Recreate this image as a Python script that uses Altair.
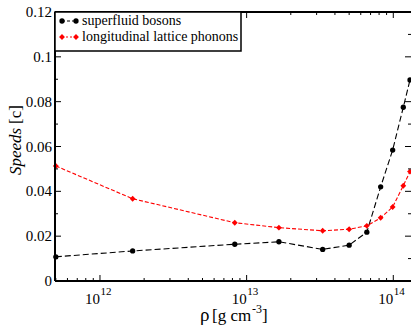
import altair as alt
import pandas as pd

# ---- data ----
rho = [5.0e11, 1.67e12, 8.3e12, 1.66e13, 3.3e13, 5.0e13, 6.6e13, 8.2e13, 9.9e13, 1.17e14, 1.3e14]
boson = [0.0108, 0.0134, 0.0164, 0.0175, 0.0141, 0.0160, 0.0218, 0.0420, 0.0584, 0.0775, 0.0897]
phonon = [0.0513, 0.0367, 0.0260, 0.0238, 0.0224, 0.0231, 0.0246, 0.0282, 0.0330, 0.0425, 0.0488]
series_names = ["superfluid bosons", "longitudinal lattice phonons"]

x_major = [1e12, 1e13, 1e14]
x_major_exp = ["12", "13", "14"]
x_minor = [k * 10.0 ** e for e in (11, 12, 13) for k in range(2, 10)]
y_major = [0, 0.02, 0.04, 0.06, 0.08, 0.1, 0.12]
y_major_lbl = ["0", "0.02", "0.04", "0.06", "0.08", "0.1", "0.12"]
y_minor = [0.01, 0.03, 0.05, 0.07, 0.09, 0.11]

XMIN, XMAX = 4.935e11, 1.3205e14
x_minor = [v for v in x_minor if XMIN < v < XMAX]

W, H = 356, 269
FONT = "Liberation Serif"

xscale = alt.Scale(type="log", domain=[XMIN, XMAX], nice=False)
yscale = alt.Scale(domain=[0, 0.12], nice=False, zero=False)

df_b = pd.DataFrame({"rho": rho, "v": boson})
df_r = pd.DataFrame({"rho": rho, "v": phonon})
X = alt.X("rho:Q", scale=xscale, axis=None)
Y = alt.Y("v:Q", scale=yscale, axis=None)

line_b = alt.Chart(df_b).mark_line(color="black", strokeDash=[6, 3], strokeWidth=1.1).encode(x=X, y=Y)
pts_b = alt.Chart(df_b).mark_point(shape="circle", filled=True, size=28, color="black", opacity=1).encode(x=X, y=Y)
line_r = alt.Chart(df_r).mark_line(color="#ff0000", strokeDash=[4, 2], strokeWidth=1.1).encode(x=X, y=Y)
pts_r = alt.Chart(df_r).mark_point(shape="diamond", filled=True, size=34, color="#ff0000", opacity=1).encode(x=X, y=Y)

one = pd.DataFrame({"a": [1]})

# frame (left, top, bottom)
frame = [
    alt.Chart(one).mark_rule(color="black", strokeWidth=2).encode(x=alt.value(0), y=alt.value(0), y2=alt.value(H)),
    alt.Chart(one).mark_rule(color="black", strokeWidth=2).encode(x=alt.value(0), x2=alt.value(W), y=alt.value(0)),
    alt.Chart(one).mark_rule(color="black", strokeWidth=2).encode(x=alt.value(0), x2=alt.value(W), y=alt.value(H)),
]

dxm = pd.DataFrame({"t": x_major})
dxn = pd.DataFrame({"t": x_minor})
dym = pd.DataFrame({"t": y_major})
dyn = pd.DataFrame({"t": y_minor})
XT = alt.X("t:Q", scale=xscale, axis=None)
YT = alt.Y("t:Q", scale=yscale, axis=None)

ticks = [
    alt.Chart(dxm).mark_rule(color="black", strokeWidth=1).encode(x=XT, y=alt.value(H), y2=alt.value(H - 6)),
    alt.Chart(dxn).mark_rule(color="black", strokeWidth=1).encode(x=XT, y=alt.value(H), y2=alt.value(H - 3)),
    alt.Chart(dxm).mark_rule(color="black", strokeWidth=1).encode(x=XT, y=alt.value(0), y2=alt.value(6)),
    alt.Chart(dxn).mark_rule(color="black", strokeWidth=1).encode(x=XT, y=alt.value(0), y2=alt.value(3)),
    alt.Chart(dym).mark_rule(color="black", strokeWidth=1).encode(y=YT, x=alt.value(0), x2=alt.value(6)),
    alt.Chart(dyn).mark_rule(color="black", strokeWidth=1).encode(y=YT, x=alt.value(0), x2=alt.value(3)),
    alt.Chart(dym).mark_rule(color="black", strokeWidth=1).encode(y=YT, x=alt.value(W), x2=alt.value(W - 6)),
    alt.Chart(dyn).mark_rule(color="black", strokeWidth=1).encode(y=YT, x=alt.value(W), x2=alt.value(W - 3)),
]

# tick labels
dylab = pd.DataFrame({"t": y_major, "lbl": y_major_lbl})
ylabels = alt.Chart(dylab).mark_text(font=FONT, fontSize=15, align="right", baseline="middle", color="black").encode(
    y=YT, x=alt.value(-3), text="lbl:N")
dxlab = pd.DataFrame({"t": x_major, "e": x_major_exp})
xlab10 = alt.Chart(dxlab).mark_text(font=FONT, fontSize=15, align="right", baseline="alphabetic", color="black").encode(
    x=XT, y=alt.value(H + 23), text=alt.value("10"))
xlabexp = alt.Chart(dxlab).mark_text(font=FONT, fontSize=11, align="left", baseline="alphabetic", color="black", dx=0.5).encode(
    x=XT, y=alt.value(H + 14), text="e:N")

# axis titles
titles = [
    alt.Chart(one).mark_text(font=FONT, fontSize=19, align="left", baseline="alphabetic", color="black").encode(
        x=alt.value(145), y=alt.value(H + 40), text=alt.value("ρ")),
    alt.Chart(one).mark_text(font=FONT, fontSize=17, align="left", baseline="alphabetic", color="black").encode(
        x=alt.value(157), y=alt.value(H + 40), text=alt.value("[g cm")),
    alt.Chart(one).mark_text(font=FONT, fontSize=12, align="left", baseline="alphabetic", color="black").encode(
        x=alt.value(197), y=alt.value(H + 32), text=alt.value("-3")),
    alt.Chart(one).mark_text(font=FONT, fontSize=17, align="left", baseline="alphabetic", color="black").encode(
        x=alt.value(207), y=alt.value(H + 40), text=alt.value("]")),
    alt.Chart(one).mark_text(font=FONT, fontSize=17, fontStyle="italic", align="left", baseline="alphabetic",
                             angle=270, color="black").encode(
        x=alt.value(-34), y=alt.value(163), text=alt.value("Speeds")),
    alt.Chart(one).mark_text(font=FONT, fontSize=17, align="right", baseline="alphabetic",
                             angle=270, color="black").encode(
        x=alt.value(-34), y=alt.value(93), text=alt.value("[c]")),
]

# legend
legend = [
    alt.Chart(one).mark_rect(fill="white", stroke="black", strokeWidth=1.5).encode(
        x=alt.value(0), x2=alt.value(186), y=alt.value(0), y2=alt.value(39)),
    alt.Chart(one).mark_rule(color="black", strokeDash=[3, 2], strokeWidth=1).encode(
        x=alt.value(7), x2=alt.value(21), y=alt.value(9)),
    alt.Chart(pd.DataFrame({"p": [7, 21]})).mark_point(shape="circle", filled=True, size=28, color="black", opacity=1).encode(
        x=alt.X("p:Q", scale=None), y=alt.value(9)),
    alt.Chart(one).mark_text(font=FONT, fontSize=14, align="left", baseline="middle", color="black").encode(
        x=alt.value(27), y=alt.value(9), text=alt.value(series_names[0])),
    alt.Chart(one).mark_rule(color="#ff0000", strokeDash=[2, 2], strokeWidth=1).encode(
        x=alt.value(7), x2=alt.value(21), y=alt.value(25)),
    alt.Chart(pd.DataFrame({"p": [7, 21]})).mark_point(shape="diamond", filled=True, size=34, color="#ff0000", opacity=1).encode(
        x=alt.X("p:Q", scale=None), y=alt.value(25)),
    alt.Chart(one).mark_text(font=FONT, fontSize=14, align="left", baseline="middle", color="black").encode(
        x=alt.value(27), y=alt.value(25), text=alt.value(series_names[1])),
]

chart = alt.layer(
    line_b, line_r, pts_b, pts_r, *frame, *ticks, ylabels, xlab10, xlabexp, *titles, *legend
).properties(
    width=W, height=H,
    autosize=alt.AutoSizeParams(type="none"),
    padding={"left": 55, "top": 12, "right": 0, "bottom": 46},
    background="white",
).configure_view(stroke=None).configure_text(font=FONT).configure(font=FONT).resolve_scale(x="independent")

chart.save("out.html", embed_options={"renderer": "svg", "actions": False})
